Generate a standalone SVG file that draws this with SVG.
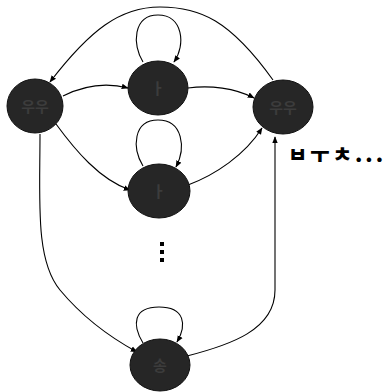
<svg xmlns="http://www.w3.org/2000/svg" width="390" height="392" viewBox="0 0 390 392">
<style>
.node{fill:#262626;stroke:#111;stroke-width:1}
.lbl{font-family:"Noto Sans CJK KR","Noto Sans",sans-serif;font-size:15px;fill:#3c3c3c;text-anchor:middle;font-weight:bold}
.edge{fill:none;stroke:#000;stroke-width:1.1;marker-end:url(#ah)}
.txt{font-family:"Noto Sans CJK KR","Noto Sans",sans-serif;font-size:21px;font-weight:900;fill:#000;letter-spacing:3px}
</style>
<defs>
<marker id="ah" viewBox="0 0 10 10" refX="9" refY="5" markerWidth="7" markerHeight="7" orient="auto" markerUnits="userSpaceOnUse">
<path d="M0,1 L10,5 L0,9 z" fill="#000"/>
</marker>
</defs>
<g id="connectors">
<path class="edge" d="M273,80 C230,20 200,7 160,7 C120,7 90,30 50,82"/>
<path class="edge" d="M143,62 C132,45 133,15 158,15 C183,15 186,45 174,62"/>
<path class="edge" d="M143,166 C132,148 133,120 158,120 C183,120 186,148 176,167"/>
<path class="edge" d="M143,343 C132,325 133,307 159,307 C185,307 187,325 177,342"/>
<path class="edge" d="M63,96 C85,85 105,82 128,88"/>
<path class="edge" d="M56,124 C75,150 100,180 130,190"/>
<path class="edge" d="M40,134 C40,200 35,260 60,290 C85,320 115,340 137,352"/>
<path class="edge" d="M188,88 C210,85 235,88 254,98"/>
<path class="edge" d="M188,185 C215,175 245,155 262,128"/>
<path class="edge" d="M187,356 C230,345 275,330 275,290 L275,137"/>
</g>
<g id="n-left"><ellipse class="node" cx="35" cy="106" rx="28" ry="27"/><text class="lbl" x="35" y="112">우우</text></g>
<g id="n-top"><ellipse class="node" cx="158" cy="88" rx="30" ry="27"/><text class="lbl" x="158" y="94">ㅏ</text></g>
<g id="n-mid"><ellipse class="node" cx="159" cy="191" rx="31" ry="27"/><text class="lbl" x="159" y="197">ㅏ</text></g>
<g id="n-right"><ellipse class="node" cx="283" cy="107" rx="30" ry="27"/><text class="lbl" x="283" y="113">우우</text></g>
<g id="n-bottom"><ellipse class="node" cx="160" cy="365" rx="30" ry="26"/><text class="lbl" x="160" y="371">송</text></g>
<g id="dots" fill="#000">
<rect x="160" y="242" width="4" height="4"/>
<rect x="160" y="250" width="4" height="4"/>
<rect x="160" y="258" width="4" height="4"/>
</g>
<text class="txt" x="288" y="162">ㅂㅜㅊ...</text>
</svg>
